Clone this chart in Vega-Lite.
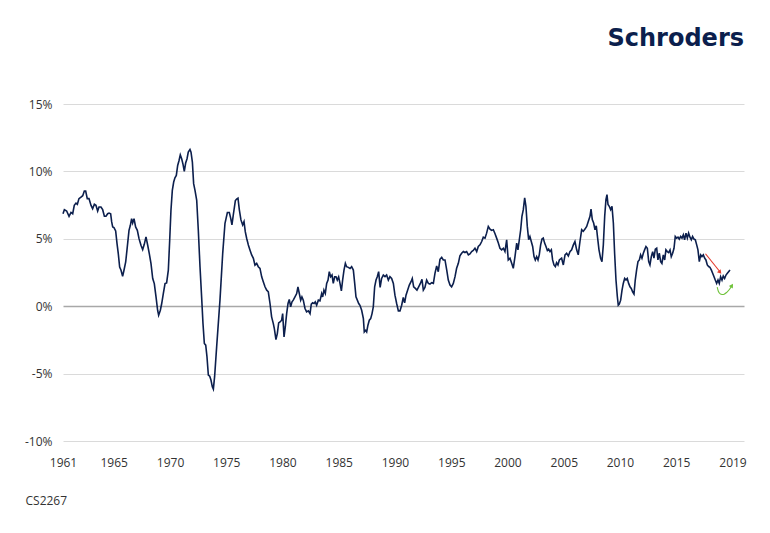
{
  "$schema": "https://vega.github.io/schema/vega-lite/v6.json",
  "width": 681,
  "height": 337,
  "autosize": {"type": "none"},
  "padding": {"left": 63, "top": 104, "right": 26, "bottom": 92},
  "background": "white",
  "title": {
    "text": "Schroders",
    "anchor": "end",
    "frame": "group",
    "font": "DejaVu Sans",
    "fontSize": 24,
    "fontWeight": "bold",
    "color": "#0c1f4d",
    "baseline": "alphabetic",
    "offset": 28
  },
  "config": {
    "view": {"stroke": null},
    "axis": {"labelFont": "Open Sans", "labelFontSize": 12, "labelColor": "#333333", "domain": false, "ticks": false, "tickSize": 0}
  },
  "datasets": {
    "series": [
      {"t":1961.00,"v":6.86},{"t":1961.12,"v":7.16},{"t":1961.32,"v":7.06},{"t":1961.53,"v":6.67},{"t":1961.70,"v":6.96},{"t":1961.85,"v":6.86},{"t":1961.99,"v":7.48},{"t":1962.14,"v":7.65},{"t":1962.26,"v":7.56},{"t":1962.40,"v":7.98},{"t":1962.58,"v":8.10},{"t":1962.73,"v":8.20},{"t":1962.87,"v":8.54},{"t":1962.99,"v":8.54},{"t":1963.13,"v":7.98},{"t":1963.28,"v":7.98},{"t":1963.46,"v":7.48},{"t":1963.60,"v":7.23},{"t":1963.75,"v":7.56},{"t":1963.89,"v":7.48},{"t":1964.04,"v":7.06},{"t":1964.16,"v":7.36},{"t":1964.33,"v":7.36},{"t":1964.48,"v":7.16},{"t":1964.63,"v":6.67},{"t":1964.77,"v":6.67},{"t":1964.92,"v":6.86},{"t":1965.04,"v":6.91},{"t":1965.18,"v":6.86},{"t":1965.27,"v":6.25},{"t":1965.36,"v":5.88},{"t":1965.47,"v":5.83},{"t":1965.62,"v":5.58},{"t":1965.74,"v":4.64},{"t":1965.85,"v":3.90},{"t":1965.97,"v":2.91},{"t":1966.09,"v":2.67},{"t":1966.23,"v":2.22},{"t":1966.35,"v":2.67},{"t":1966.50,"v":3.28},{"t":1966.64,"v":4.40},{"t":1966.79,"v":5.63},{"t":1966.91,"v":6.00},{"t":1967.02,"v":6.49},{"t":1967.11,"v":6.17},{"t":1967.23,"v":6.49},{"t":1967.37,"v":5.88},{"t":1967.52,"v":5.63},{"t":1967.67,"v":5.01},{"t":1967.84,"v":4.52},{"t":1967.99,"v":4.20},{"t":1968.13,"v":4.59},{"t":1968.28,"v":5.14},{"t":1968.43,"v":4.52},{"t":1968.57,"v":3.90},{"t":1968.72,"v":3.16},{"t":1968.87,"v":2.05},{"t":1969.01,"v":1.68},{"t":1969.16,"v":0.69},{"t":1969.30,"v":-0.30},{"t":1969.39,"v":-0.67},{"t":1969.54,"v":-0.30},{"t":1969.66,"v":0.20},{"t":1969.80,"v":0.94},{"t":1969.95,"v":1.68},{"t":1970.09,"v":1.73},{"t":1970.24,"v":2.67},{"t":1970.36,"v":4.89},{"t":1970.47,"v":7.11},{"t":1970.59,"v":8.59},{"t":1970.71,"v":9.21},{"t":1970.82,"v":9.53},{"t":1970.94,"v":9.70},{"t":1971.06,"v":10.44},{"t":1971.18,"v":10.81},{"t":1971.29,"v":11.23},{"t":1971.41,"v":10.94},{"t":1971.53,"v":10.52},{"t":1971.64,"v":10.00},{"t":1971.76,"v":10.62},{"t":1971.88,"v":10.94},{"t":1971.99,"v":11.43},{"t":1972.14,"v":11.63},{"t":1972.23,"v":11.43},{"t":1972.35,"v":10.69},{"t":1972.46,"v":9.09},{"t":1972.58,"v":8.59},{"t":1972.73,"v":7.85},{"t":1972.87,"v":5.63},{"t":1973.02,"v":2.91},{"t":1973.16,"v":0.69},{"t":1973.28,"v":-1.28},{"t":1973.40,"v":-2.77},{"t":1973.52,"v":-2.89},{"t":1973.63,"v":-3.75},{"t":1973.75,"v":-5.11},{"t":1973.87,"v":-5.19},{"t":1973.98,"v":-5.48},{"t":1974.10,"v":-5.98},{"t":1974.19,"v":-6.15},{"t":1974.30,"v":-5.23},{"t":1974.48,"v":-3.00},{"t":1974.77,"v":0.45},{"t":1975.01,"v":3.92},{"t":1975.21,"v":6.15},{"t":1975.42,"v":6.95},{"t":1975.59,"v":6.95},{"t":1975.71,"v":6.53},{"t":1975.82,"v":6.03},{"t":1975.94,"v":6.77},{"t":1976.12,"v":7.84},{"t":1976.23,"v":7.94},{"t":1976.35,"v":8.01},{"t":1976.47,"v":7.15},{"t":1976.61,"v":6.40},{"t":1976.76,"v":6.03},{"t":1976.88,"v":6.28},{"t":1976.99,"v":5.53},{"t":1977.11,"v":5.04},{"t":1977.26,"v":4.54},{"t":1977.40,"v":4.17},{"t":1977.55,"v":3.80},{"t":1977.70,"v":3.55},{"t":1977.84,"v":3.05},{"t":1977.99,"v":3.18},{"t":1978.13,"v":2.93},{"t":1978.28,"v":2.80},{"t":1978.43,"v":2.18},{"t":1978.57,"v":1.81},{"t":1978.72,"v":1.44},{"t":1978.87,"v":1.19},{"t":1979.01,"v":1.07},{"t":1979.16,"v":0.20},{"t":1979.30,"v":-0.79},{"t":1979.45,"v":-1.29},{"t":1979.54,"v":-1.66},{"t":1979.68,"v":-2.48},{"t":1979.80,"v":-2.03},{"t":1979.92,"v":-1.24},{"t":1980.04,"v":-1.17},{"t":1980.18,"v":-1.04},{"t":1980.27,"v":-0.55},{"t":1980.39,"v":-2.28},{"t":1980.50,"v":-1.54},{"t":1980.62,"v":-0.55},{"t":1980.74,"v":0.20},{"t":1980.85,"v":0.50},{"t":1980.97,"v":-0.05},{"t":1981.09,"v":0.32},{"t":1981.20,"v":0.45},{"t":1981.35,"v":0.69},{"t":1981.50,"v":0.94},{"t":1981.61,"v":1.44},{"t":1981.73,"v":0.94},{"t":1981.85,"v":0.45},{"t":1981.96,"v":0.69},{"t":1982.08,"v":0.45},{"t":1982.23,"v":-0.17},{"t":1982.37,"v":-0.42},{"t":1982.52,"v":-0.35},{"t":1982.67,"v":-0.55},{"t":1982.78,"v":0.15},{"t":1982.90,"v":0.25},{"t":1983.02,"v":0.20},{"t":1983.13,"v":0.32},{"t":1983.25,"v":0.07},{"t":1983.40,"v":0.45},{"t":1983.54,"v":0.40},{"t":1983.69,"v":0.94},{"t":1983.78,"v":0.69},{"t":1983.89,"v":1.19},{"t":1984.01,"v":0.94},{"t":1984.13,"v":1.69},{"t":1984.25,"v":1.94},{"t":1984.36,"v":2.56},{"t":1984.48,"v":2.18},{"t":1984.60,"v":2.31},{"t":1984.71,"v":1.69},{"t":1984.83,"v":2.18},{"t":1984.95,"v":2.18},{"t":1985.06,"v":1.94},{"t":1985.18,"v":2.18},{"t":1985.30,"v":1.69},{"t":1985.42,"v":1.14},{"t":1985.53,"v":1.94},{"t":1985.65,"v":2.68},{"t":1985.77,"v":3.18},{"t":1985.88,"v":2.93},{"t":1986.03,"v":2.88},{"t":1986.18,"v":2.80},{"t":1986.32,"v":2.93},{"t":1986.47,"v":2.68},{"t":1986.59,"v":1.69},{"t":1986.70,"v":0.69},{"t":1986.82,"v":0.45},{"t":1986.94,"v":0.20},{"t":1987.05,"v":0.07},{"t":1987.20,"v":-0.30},{"t":1987.35,"v":-0.92},{"t":1987.43,"v":-1.91},{"t":1987.55,"v":-1.79},{"t":1987.64,"v":-1.91},{"t":1987.75,"v":-1.41},{"t":1987.87,"v":-1.04},{"t":1987.99,"v":-0.92},{"t":1988.11,"v":-0.55},{"t":1988.22,"v":-0.05},{"t":1988.34,"v":1.44},{"t":1988.46,"v":1.94},{"t":1988.57,"v":2.18},{"t":1988.69,"v":2.56},{"t":1988.82,"v":1.40},{"t":1988.95,"v":2.06},{"t":1989.10,"v":2.31},{"t":1989.25,"v":2.19},{"t":1989.39,"v":2.31},{"t":1989.54,"v":1.94},{"t":1989.68,"v":2.19},{"t":1989.83,"v":2.06},{"t":1989.98,"v":1.69},{"t":1990.12,"v":0.82},{"t":1990.27,"v":0.20},{"t":1990.42,"v":-0.35},{"t":1990.56,"v":-0.35},{"t":1990.71,"v":0.07},{"t":1990.85,"v":0.65},{"t":1990.97,"v":0.25},{"t":1991.09,"v":0.82},{"t":1991.23,"v":1.19},{"t":1991.38,"v":1.57},{"t":1991.53,"v":1.82},{"t":1991.64,"v":2.06},{"t":1991.76,"v":1.44},{"t":1991.91,"v":1.32},{"t":1992.05,"v":1.19},{"t":1992.20,"v":1.44},{"t":1992.35,"v":1.69},{"t":1992.49,"v":1.99},{"t":1992.61,"v":1.19},{"t":1992.75,"v":1.39},{"t":1992.90,"v":1.94},{"t":1993.05,"v":1.69},{"t":1993.19,"v":1.64},{"t":1993.34,"v":1.74},{"t":1993.49,"v":1.69},{"t":1993.63,"v":2.44},{"t":1993.78,"v":2.99},{"t":1993.92,"v":2.56},{"t":1994.07,"v":3.48},{"t":1994.22,"v":3.63},{"t":1994.36,"v":3.43},{"t":1994.51,"v":3.43},{"t":1994.66,"v":2.69},{"t":1994.80,"v":1.94},{"t":1994.95,"v":1.57},{"t":1995.09,"v":1.44},{"t":1995.24,"v":1.69},{"t":1995.39,"v":2.19},{"t":1995.53,"v":2.81},{"t":1995.68,"v":3.18},{"t":1995.82,"v":3.73},{"t":1995.97,"v":3.93},{"t":1996.12,"v":4.05},{"t":1996.26,"v":3.98},{"t":1996.41,"v":4.05},{"t":1996.56,"v":3.81},{"t":1996.70,"v":3.88},{"t":1996.85,"v":4.05},{"t":1996.99,"v":4.13},{"t":1997.14,"v":4.30},{"t":1997.29,"v":4.05},{"t":1997.43,"v":4.43},{"t":1997.58,"v":4.55},{"t":1997.73,"v":4.80},{"t":1997.87,"v":5.12},{"t":1998.02,"v":5.05},{"t":1998.16,"v":5.42},{"t":1998.31,"v":5.92},{"t":1998.46,"v":5.72},{"t":1998.60,"v":5.62},{"t":1998.75,"v":5.67},{"t":1998.90,"v":5.37},{"t":1999.04,"v":5.05},{"t":1999.19,"v":4.68},{"t":1999.33,"v":4.30},{"t":1999.48,"v":4.18},{"t":1999.63,"v":4.30},{"t":1999.77,"v":4.05},{"t":1999.92,"v":4.93},{"t":2000.06,"v":3.43},{"t":2000.21,"v":3.56},{"t":2000.36,"v":3.18},{"t":2000.50,"v":2.81},{"t":2000.65,"v":3.68},{"t":2000.80,"v":4.68},{"t":2000.91,"v":4.18},{"t":2001.03,"v":4.93},{"t":2001.15,"v":5.67},{"t":2001.26,"v":6.67},{"t":2001.38,"v":7.16},{"t":2001.50,"v":8.03},{"t":2001.61,"v":7.41},{"t":2001.73,"v":5.92},{"t":2001.85,"v":4.93},{"t":2001.96,"v":5.17},{"t":2002.08,"v":4.80},{"t":2002.20,"v":4.43},{"t":2002.32,"v":3.68},{"t":2002.43,"v":3.43},{"t":2002.55,"v":3.68},{"t":2002.67,"v":3.43},{"t":2002.78,"v":3.81},{"t":2002.90,"v":4.55},{"t":2003.02,"v":4.98},{"t":2003.13,"v":5.05},{"t":2003.25,"v":4.68},{"t":2003.37,"v":4.43},{"t":2003.49,"v":4.13},{"t":2003.60,"v":4.23},{"t":2003.72,"v":4.05},{"t":2003.84,"v":4.18},{"t":2003.95,"v":3.43},{"t":2004.07,"v":3.06},{"t":2004.19,"v":2.94},{"t":2004.30,"v":3.23},{"t":2004.42,"v":3.06},{"t":2004.54,"v":3.43},{"t":2004.74,"v":3.56},{"t":2004.89,"v":3.06},{"t":2005.04,"v":3.81},{"t":2005.18,"v":3.93},{"t":2005.33,"v":3.73},{"t":2005.47,"v":4.05},{"t":2005.62,"v":4.18},{"t":2005.77,"v":4.55},{"t":2005.91,"v":4.80},{"t":2006.06,"v":4.18},{"t":2006.20,"v":3.81},{"t":2006.35,"v":4.80},{"t":2006.50,"v":5.67},{"t":2006.64,"v":5.55},{"t":2006.79,"v":5.72},{"t":2006.94,"v":5.92},{"t":2007.08,"v":6.29},{"t":2007.23,"v":6.67},{"t":2007.32,"v":7.21},{"t":2007.43,"v":6.42},{"t":2007.55,"v":6.17},{"t":2007.67,"v":5.67},{"t":2007.78,"v":5.97},{"t":2007.90,"v":5.05},{"t":2008.02,"v":4.18},{"t":2008.16,"v":3.56},{"t":2008.28,"v":3.31},{"t":2008.40,"v":4.55},{"t":2008.52,"v":6.67},{"t":2008.63,"v":7.91},{"t":2008.72,"v":8.28},{"t":2008.81,"v":7.54},{"t":2008.92,"v":7.41},{"t":2009.04,"v":7.16},{"t":2009.16,"v":7.41},{"t":2009.28,"v":6.17},{"t":2009.39,"v":3.93},{"t":2009.51,"v":1.94},{"t":2009.63,"v":0.70},{"t":2009.71,"v":0.07},{"t":2009.80,"v":0.15},{"t":2009.92,"v":0.45},{"t":2010.04,"v":1.19},{"t":2010.15,"v":1.69},{"t":2010.27,"v":2.06},{"t":2010.39,"v":1.94},{"t":2010.50,"v":2.06},{"t":2010.62,"v":1.69},{"t":2010.74,"v":1.44},{"t":2010.85,"v":1.32},{"t":2010.97,"v":1.07},{"t":2011.09,"v":0.90},{"t":2011.20,"v":1.94},{"t":2011.32,"v":2.69},{"t":2011.44,"v":3.31},{"t":2011.56,"v":3.43},{"t":2011.67,"v":3.81},{"t":2011.79,"v":3.56},{"t":2011.91,"v":3.93},{"t":2012.02,"v":4.18},{"t":2012.14,"v":4.43},{"t":2012.26,"v":4.30},{"t":2012.38,"v":3.31},{"t":2012.49,"v":3.06},{"t":2012.61,"v":3.68},{"t":2012.73,"v":4.05},{"t":2012.84,"v":3.56},{"t":2012.96,"v":4.23},{"t":2013.08,"v":4.30},{"t":2013.19,"v":3.43},{"t":2013.31,"v":3.93},{"t":2013.43,"v":3.31},{"t":2013.54,"v":3.18},{"t":2013.66,"v":3.81},{"t":2013.78,"v":3.43},{"t":2013.89,"v":4.18},{"t":2014.01,"v":4.05},{"t":2014.13,"v":3.98},{"t":2014.25,"v":4.18},{"t":2014.36,"v":3.68},{"t":2014.48,"v":3.93},{"t":2014.60,"v":4.30},{"t":2014.71,"v":5.17},{"t":2014.83,"v":5.05},{"t":2014.95,"v":5.12},{"t":2015.06,"v":4.98},{"t":2015.18,"v":5.17},{"t":2015.30,"v":5.05},{"t":2015.42,"v":5.30},{"t":2015.53,"v":4.93},{"t":2015.65,"v":5.42},{"t":2015.77,"v":5.05},{"t":2015.88,"v":5.42},{"t":2016.00,"v":5.12},{"t":2016.12,"v":4.93},{"t":2016.23,"v":5.17},{"t":2016.35,"v":4.98},{"t":2016.47,"v":4.93},{"t":2016.59,"v":4.55},{"t":2016.70,"v":4.18},{"t":2016.82,"v":3.31},{"t":2016.94,"v":3.81},{"t":2017.05,"v":3.68},{"t":2017.17,"v":3.81},{"t":2017.29,"v":3.56},{"t":2017.40,"v":3.43},{"t":2017.52,"v":3.06},{"t":2017.64,"v":2.94},{"t":2017.75,"v":2.89},{"t":2017.87,"v":2.69},{"t":2017.99,"v":2.44},{"t":2018.11,"v":2.19},{"t":2018.22,"v":1.94},{"t":2018.34,"v":1.69},{"t":2018.46,"v":1.94},{"t":2018.57,"v":1.69},{"t":2018.69,"v":2.19},{"t":2018.81,"v":1.94},{"t":2018.92,"v":2.24},{"t":2019.04,"v":2.06},{"t":2019.16,"v":2.31},{"t":2019.28,"v":2.44},{"t":2019.39,"v":2.56},{"t":2019.51,"v":2.69}
    ],
    "red": [{"t":2017.36,"v":3.89},{"t":2018.68,"v":2.50}],
    "redHead": [{"t":2018.64,"v":2.52}],
    "green": [{"t":2018.39,"v":1.41},{"t":2018.48,"v":1.13},{"t":2018.67,"v":0.91},{"t":2018.94,"v":0.87},{"t":2019.25,"v":1.05},{"t":2019.55,"v":1.35},{"t":2019.68,"v":1.54}],
    "greenHead": [{"t":2019.68,"v":1.54}]
  },
  "encoding": {
    "x": {
      "field": "t",
      "type": "quantitative",
      "scale": {"domain": [1961, 2020.74], "nice": false, "zero": false},
      "axis": {
        "values": [1961, 1965.45, 1970.39, 1975.32, 1980.25, 1985.19, 1990.12, 1995.06, 1999.99, 2004.93, 2009.86, 2014.79, 2019.73],
        "labelExpr": "datum.value < 1962 ? '1961' : datum.value > 2018 ? '2019' : toString(round(datum.value / 5) * 5)",
        "grid": false,
        "labelPadding": 16,
        "labelFlush": false,
        "labelOverlap": false,
        "labelBound": false,
        "encode": {"labels": {"update": {"dx": {"signal": "datum.value < 1962 ? -5.5 : 0"}}}},
        "title": "CS2267",
        "titleFont": "Open Sans",
        "titleFontSize": 12,
        "titleFontWeight": "normal",
        "titleColor": "#333333",
        "titleAnchor": "start",
        "titleAlign": "left",
        "titleBaseline": "middle",
        "titleX": -38,
        "titleY": 59
      }
    },
    "y": {
      "field": "v",
      "type": "quantitative",
      "scale": {"domain": [-10, 15], "nice": false, "zero": false},
      "axis": {
        "values": [-10, -5, 0, 5, 10, 15],
        "labelExpr": "datum.value + '%'",
        "grid": true,
        "gridColor": {"condition": {"test": "datum.value === 0", "value": "#a8a8a8"}, "value": "#dadada"},
        "gridWidth": {"condition": {"test": "datum.value === 0", "value": 1.5}, "value": 1},
        "labelPadding": 11,
        "title": null
      }
    }
  },
  "layer": [
    {"data": {"name": "series"}, "mark": {"type": "line", "color": "#0c1f4d", "strokeWidth": 1.6}},
    {"data": {"name": "red"}, "mark": {"type": "line", "color": "#e53a2c", "strokeWidth": 1.1}},
    {"data": {"name": "redHead"}, "mark": {"type": "point", "shape": "triangle-up", "filled": true, "color": "#e53a2c", "size": 22, "angle": 141, "opacity": 1}},
    {"data": {"name": "green"}, "mark": {"type": "line", "color": "#6fc23a", "strokeWidth": 1.1, "interpolate": "monotone"}},
    {"data": {"name": "greenHead"}, "mark": {"type": "point", "shape": "triangle-up", "filled": true, "color": "#6fc23a", "size": 22, "angle": 32, "opacity": 1}}
  ]
}
